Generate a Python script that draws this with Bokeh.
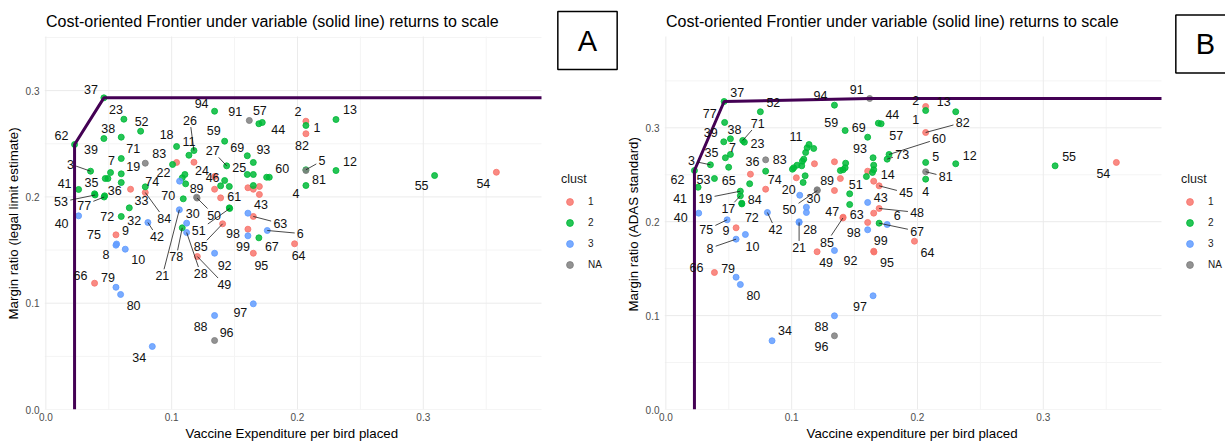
from bokeh.plotting import figure
from bokeh.models import (Legend, LegendItem, Label, Title, FixedTicker, Range1d,
                          PrintfTickFormatter)
from bokeh.layouts import row
from bokeh.embed import file_html
from bokeh.resources import INLINE
from bokeh.core.properties import value

FONT = "Liberation Sans"
PALETTE = {"1": "#F8766D", "2": "#00BA38", "3": "#619CFF", "NA": "#7F7F7F"}
CLUSTERS = ["1", "2", "3", "NA"]
TITLE = "Cost-oriented Frontier under variable (solid line) returns to scale"
MAJOR_TICKS = [0.0, 0.1, 0.2, 0.3]
MINOR_TICKS = [0.05, 0.15, 0.25, 0.35]

# ---------------- Panel A: margin ratio from the legal limit estimate ----------------
a_id = ["37", "23", "52", "38", "39", "62", "18", "26", "11", "94", "91", "57", "44", "59", "71", "83",
        "19", "3", "7", "", "", "", "27", "69", "93", "25", "", "60", "", "24", "22", "", "41", "35",
        "53", "36", "77", "33", "74", "84", "", "", "", "", "70", "46", "", "", "", "", "", "89", "50",
        "61", "51", "", "", "", "", "", "43", "63", "32", "72", "40", "21", "42", "30", "78", "28",
        "85", "98", "99", "6", "67", "64", "75", "8", "10", "9", "92", "95", "49", "66", "79", "80",
        "97", "88", "96", "34", "2", "1", "82", "13", "5", "81", "12", "4", "55", "54"]
a_x = [0.0461, 0.0620, 0.0753, 0.0599, 0.0461, 0.0228, 0.1039, 0.1177, 0.1137, 0.1341, 0.1617, 0.1693,
       0.1720, 0.1421, 0.0599, 0.0790, 0.0599, 0.0355, 0.0514, 0.0493, 0.0472, 0.0599, 0.1437, 0.1601,
       0.1649, 0.1601, 0.1649, 0.1776, 0.1755, 0.1177, 0.1007, 0.1039, 0.0260, 0.0387, 0.0391, 0.0467,
       0.0463, 0.0673, 0.0790, 0.0790, 0.1105, 0.1084, 0.1063, 0.1111, 0.1092, 0.1341, 0.1341, 0.1421,
       0.1389, 0.1458, 0.1389, 0.1198, 0.1202, 0.1458, 0.1461, 0.1606, 0.1649, 0.1649, 0.1697, 0.1697,
       0.1606, 0.1649, 0.0663, 0.0599, 0.0260, 0.1061, 0.0811, 0.1119, 0.1084, 0.1119, 0.1405, 0.1606,
       0.1606, 0.1760, 0.1693, 0.1977, 0.0557, 0.0557, 0.0631, 0.0562, 0.1341, 0.1649, 0.1204, 0.0387,
       0.0557, 0.0594, 0.1649, 0.1341, 0.1341, 0.0846, 0.2067, 0.2067, 0.2067, 0.2306, 0.2067, 0.2067,
       0.2306, 0.2067, 0.3090, 0.3581]
a_y = [0.2932, 0.2731, 0.2618, 0.2562, 0.2549, 0.2493, 0.2474, 0.2436, 0.2392, 0.2806, 0.2719, 0.2688,
       0.2700, 0.2524, 0.2361, 0.2317, 0.2217, 0.2242, 0.2229, 0.2173, 0.2173, 0.2135, 0.2292, 0.2387,
       0.2324, 0.2211, 0.2211, 0.2185, 0.2185, 0.2326, 0.2305, 0.2324, 0.2070, 0.2029, 0.2018, 0.2010,
       0.1999, 0.2072, 0.2095, 0.2041, 0.2211, 0.2180, 0.2148, 0.2123, 0.1982, 0.2072, 0.2192, 0.2154,
       0.2104, 0.2098, 0.1991, 0.1997, 0.1989, 0.1897, 0.1891, 0.2086, 0.2072, 0.2107, 0.2098, 0.2023,
       0.1847, 0.1816, 0.1897, 0.1816, 0.1822, 0.1879, 0.1759, 0.1753, 0.1709, 0.1665, 0.1747, 0.1696,
       0.1634, 0.1684, 0.1615, 0.1559, 0.1643, 0.1546, 0.1508, 0.1557, 0.1470, 0.1470, 0.1439, 0.1188,
       0.1150, 0.1082, 0.0994, 0.0884, 0.0649, 0.0593, 0.2712, 0.2672, 0.2594, 0.2728, 0.2255, 0.2248,
       0.2248, 0.2107, 0.2201, 0.2232]
a_clust = ["2", "2", "2", "2", "2", "2", "2", "2", "2", "2", "NA", "2", "2", "2", "2", "NA", "2", "2",
           "2", "2", "2", "2", "2", "2", "2", "2", "2", "2", "2", "1", "2", "1", "2", "2", "2", "2",
           "2", "1", "2", "1", "2", "2", "3", "2", "2", "1", "1", "2", "2", "2", "1", "NA", "NA", "2",
           "2", "1", "1", "2", "1", "1", "3", "1", "2", "2", "3", "3", "3", "3", "2", "3", "1", "1",
           "3", "3", "2", "1", "1", "3", "3", "3", "3", "1", "1", "1", "3", "3", "3", "3", "NA", "3",
           "1", "2", "1", "2", "2", "NA", "2", "2", "2", "1"]
# label placement: pixel offset of each id label from its point (screen y downwards), leader flag
a_dx = [-13, -8, 1, -13, -13, -13, -10, -4, 0, -13, -14, 1, 16, -11, 12, 14, 12, -20, 1, 0, 0, 0, -14,
        -10, 10, -8, 0, 13, 0, 8, -9, 0, -14, -3, -34, 10, -20, 11, 7, 19, 0, 0, 0, 0, -15, -2, 0, 0,
        0, 0, 0, 0, 17, 5, -31, 0, 0, 0, 0, 0, 13, 27, 5, -14, -17, -17, 9, 6, -6, 14, -22, -15, -5,
        33, 13, 4, -22, -10, 13, 9, 10, 8, 27, -14, -8, 13, -13, -14, 12, -13, -8, 11, -4, 14, 16, 13,
        14, -10, -13, -13]
a_dy = [-8, -10, -10, -9, 11, -9, -12, -30, -14, -8, -9, -13, 7, -11, -10, -10, -7, -7, -12, 0, 0, 0,
        -15, -8, -13, -7, 0, -9, 0, 8, 8, 0, -6, -11, 7, -5, 8, 11, -5, 26, 0, 0, 0, 0, -3, -12, 0, 0,
        0, 0, 0, -9, 17, -11, 22, 0, 0, 0, 0, 0, -9, 7, 13, 0, 8, 66, 14, -10, 29, 41, 23, 4, 11, 3, 9,
        12, 0, 9, 10, -13, 12, 12, 28, -8, -10, 11, 9, 11, -8, 11, -10, 2, 12, -10, -9, 9, -9, 8, 10,
        11]
a_lead = [0, 0, 0, 0, 0, 0, 0, 1, 0, 0, 0, 0, 0, 0, 0, 0, 0, 1, 0, 0, 0, 0, 1, 0, 0, 0, 0, 0, 0, 0, 0,
          0, 0, 0, 1, 0, 1, 0, 0, 1, 0, 0, 0, 0, 0, 0, 0, 0, 0, 0, 0, 0, 1, 0, 1, 0, 0, 0, 0, 0, 0, 1,
          0, 0, 0, 1, 1, 0, 1, 1, 1, 0, 0, 1, 0, 0, 0, 0, 0, 0, 0, 0, 1, 0, 0, 0, 0, 0, 0, 0, 0, 0, 0,
          0, 1, 0, 0, 0, 0, 0]
a_frontier = ["62", "37"]

# ---------------- Panel B: margin ratio from the ADAS standard ----------------
b_id = ["37", "52", "77", "39", "38", "71", "23", "7", "35", "3", "65", "62", "53", "41", "36", "", "83",
        "74", "", "19", "17", "84", "72", "40", "75", "9", "42", "8", "10", "66", "79", "80", "34", "88",
        "96", "97", "11", "", "", "", "", "", "", "", "", "", "", "", "", "", "20", "89", "50", "30", "",
        "28", "21", "49", "92", "47", "85", "", "", "", "59", "69", "94", "91", "44", "57", "93", "", "",
        "", "", "", "", "", "", "", "14", "45", "51", "", "43", "63", "48", "98", "", "67", "6", "99",
        "95", "64", "2", "1", "13", "82", "60", "73", "5", "81", "4", "12", "55", "54"]
b_x = [0.0463, 0.0751, 0.0467, 0.0460, 0.0513, 0.0611, 0.0624, 0.0513, 0.0473, 0.0354, 0.0499, 0.0227,
       0.0386, 0.0256, 0.0672, 0.0666, 0.0793, 0.0793, 0.0793, 0.0592, 0.0592, 0.0603, 0.0604, 0.0261,
       0.0487, 0.0558, 0.0807, 0.0558, 0.0632, 0.0386, 0.0558, 0.0592, 0.0844, 0.1340, 0.1340, 0.1647,
       0.1138, 0.1123, 0.1175, 0.1111, 0.1096, 0.1085, 0.1043, 0.1016, 0.1006, 0.1080, 0.1107, 0.1091,
       0.1181, 0.1037, 0.1064, 0.1202, 0.1204, 0.1117, 0.1117, 0.1059, 0.1059, 0.1202, 0.1340, 0.1409,
       0.1407, 0.1340, 0.1387, 0.1340, 0.1425, 0.1604, 0.1340, 0.1620, 0.1689, 0.1711, 0.1647, 0.1429,
       0.1425, 0.1409, 0.1387, 0.1652, 0.1652, 0.1642, 0.1604, 0.1594, 0.1652, 0.1695, 0.1461, 0.1461,
       0.1604, 0.1652, 0.1695, 0.1604, 0.1604, 0.1695, 0.1759, 0.1652, 0.1654, 0.1976, 0.2065, 0.2065,
       0.2304, 0.2065, 0.1774, 0.1759, 0.2065, 0.2065, 0.2065, 0.2304, 0.3094, 0.3581]
b_y = [0.3280, 0.3171, 0.3057, 0.2851, 0.2883, 0.2865, 0.2847, 0.2716, 0.2681, 0.2606, 0.2580, 0.2545,
       0.2460, 0.2367, 0.2506, 0.2404, 0.2659, 0.2538, 0.2346, 0.2325, 0.2276, 0.2197, 0.2189, 0.2091,
       0.2020, 0.1935, 0.2098, 0.1814, 0.1864, 0.1459, 0.1409, 0.1331, 0.0732, 0.0998, 0.0785, 0.1211,
       0.2822, 0.2787, 0.2780, 0.2737, 0.2666, 0.2644, 0.2602, 0.2574, 0.2559, 0.2595, 0.2489, 0.2418,
       0.2617, 0.2468, 0.2282, 0.2340, 0.2332, 0.2154, 0.2098, 0.1999, 0.1992, 0.1680, 0.1693, 0.2048,
       0.2039, 0.2638, 0.2460, 0.2332, 0.2971, 0.2900, 0.3241, 0.3312, 0.3049, 0.3043, 0.2681, 0.2623,
       0.2574, 0.2553, 0.2545, 0.2602, 0.2553, 0.2524, 0.2538, 0.2481, 0.2431, 0.2382, 0.2297, 0.2183,
       0.2205, 0.2091, 0.2141, 0.1914, 0.1992, 0.1984, 0.1970, 0.1686, 0.1677, 0.1792, 0.3227, 0.3184,
       0.3171, 0.2950, 0.2716, 0.2666, 0.2631, 0.2532, 0.2453, 0.2617, 0.2595, 0.2631]
b_clust = ["2", "2", "2", "2", "2", "2", "2", "2", "2", "2", "2", "2", "2", "2", "1", "2", "NA", "2",
           "1", "2", "2", "2", "2", "3", "3", "1", "3", "3", "3", "1", "3", "3", "3", "3", "NA", "3",
           "2", "2", "2", "2", "2", "2", "2", "2", "2", "2", "2", "2", "1", "1", "3", "NA", "NA", "3",
           "3", "3", "3", "1", "3", "1", "1", "1", "1", "1", "2", "2", "2", "NA", "2", "2", "2", "2",
           "2", "2", "2", "2", "2", "2", "1", "2", "1", "1", "2", "2", "3", "1", "1", "3", "1", "2",
           "3", "1", "1", "1", "1", "2", "2", "1", "2", "2", "2", "NA", "2", "2", "2", "1"]
b_dx = [13, 13, -15, -13, 4, 15, 13, 2, -14, -19, 0, -17, -11, -18, 2, 0, 14, 9, 0, -35, -12, 13, 10,
        -18, -21, -10, 8, -26, 7, -18, -8, 13, 13, -13, -13, -13, -13, 0, 0, 0, 0, 0, 0, 0, 0, 0, 0, 0,
        0, 0, -11, 10, -28, 7, 0, 11, 0, 9, 16, -11, -16, 0, 0, 0, -14, -9, -14, -13, 14, 15, -13, 0, 0,
        0, 0, 0, 0, 0, 0, 0, 14, 27, 6, 0, 13, -17, 38, -14, 0, 38, 10, 7, 13, 13, -10, -10, -12, 37,
        50, 15, 10, 20, 0, 14, 14, -13]
b_dy = [-9, -9, -9, -9, -9, -17, 1, -7, -5, -4, 13, 9, 1, 11, -13, 0, 0, 8, 0, 7, 13, -4, 14, 4, 10, 3,
        17, 9, 12, -5, -9, 11, -10, 11, 11, 11, -8, 0, 0, 0, 0, 0, 0, 0, 0, 0, 0, 0, 0, 0, -6, -9, 19, -9,
        0, 8, 25, 11, 10, -6, 24, 0, 0, 0, -8, -10, -10, -9, -9, 12, -9, 0, 0, 0, 0, 0, 0, 0, 0, 0, -7,
        7, -9, 0, -5, 1, 4, 3, 0, 8, -9, -11, 10, 11, -6, 9, -10, -10, -16, -5, -6, 5, 12, -8, -9, 11]
b_lead = [0, 0, 0, 0, 0, 1, 0, 0, 0, 1, 0, 0, 0, 0, 0, 0, 0, 0, 0, 1, 1, 0, 0, 0, 1, 0, 1, 1, 0, 0, 0,
          0, 0, 0, 0, 0, 0, 0, 0, 0, 0, 0, 0, 0, 0, 0, 0, 0, 0, 0, 0, 0, 1, 0, 0, 0, 1, 0, 0, 0, 1, 0,
          0, 0, 0, 0, 0, 0, 0, 0, 0, 0, 0, 0, 0, 0, 0, 0, 0, 0, 0, 1, 0, 0, 0, 0, 1, 0, 0, 1, 0, 0, 0,
          0, 0, 0, 0, 1, 1, 1, 0, 1, 0, 0, 0, 0]
b_frontier = ["62", "37", "91"]

# ---------------- layout constants (pixels) ----------------
HEIGHT = 441
LEFT = 44          # room for the y axis
BOTTOM = 32        # room for the x axis
PANEL_TOP = 36     # top of the gridded panel, title and letter box sit above it
PANEL_W = 497      # width of the gridded panel
X_SCALE = 1258.0   # pixels per unit of vaccine expenditure
X0 = -0.0011
AXIS_TITLE_SIZE = "13.3px"


def panel(ids, xs, ys, clust, dx, dy, lead, frontier, xlab, ylab, tag, width, y_scale,
          xlab_offset, ylab_offset):
    frame_w = width - LEFT
    frame_h = HEIGHT - BOTTOM
    x_end = X0 + frame_w / X_SCALE
    x_lim = X0 + PANEL_W / X_SCALE
    y_end = frame_h / y_scale
    y_lim = (frame_h - PANEL_TOP) / y_scale

    p = figure(width=width, height=HEIGHT, x_range=Range1d(X0, x_end), y_range=Range1d(0.0, y_end),
               output_backend="svg", toolbar_location=None,
               min_border_left=LEFT, min_border_right=0, min_border_top=0, min_border_bottom=BOTTOM)
    p.outline_line_color = None
    p.background_fill_color = "white"
    p.border_fill_color = "white"
    p.grid.visible = False

    for ax in (p.xaxis, p.yaxis):
        ax.ticker = FixedTicker(ticks=MAJOR_TICKS, minor_ticks=MINOR_TICKS)
        ax.formatter = PrintfTickFormatter(format="%.1f")
        ax.axis_line_color = None
        ax.major_tick_line_color = None
        ax.minor_tick_line_color = None
        ax.major_tick_out = 0
        ax.major_tick_in = 0
        ax.minor_tick_out = 0
        ax.minor_tick_in = 0
        ax.major_label_text_font = FONT
        ax.major_label_text_font_size = "10px"
        ax.major_label_text_color = "#4D4D4D"
    p.xaxis.major_label_standoff = 3
    p.yaxis.major_label_standoff = 5

    # axis titles, positioned along the gridded panel rather than the whole frame
    p.add_layout(Title(text=xlab, align="left", offset=xlab_offset, standoff=0,
                       text_font=FONT, text_font_size=AXIS_TITLE_SIZE, text_font_style="normal",
                       text_color="#000000"), "below")
    p.add_layout(Title(text=ylab, align="left", offset=ylab_offset, standoff=3,
                       text_font=FONT, text_font_size=AXIS_TITLE_SIZE, text_font_style="normal",
                       text_color="#000000"), "left")

    # panel grid, limited to the plotting panel
    for ticks, color in ((MINOR_TICKS, "#F4F4F4"), (MAJOR_TICKS, "#EBEBEB")):
        gx = [t for t in ticks if t < x_lim]
        p.segment(gx, [0.0] * len(gx), gx, [y_lim] * len(gx), line_color=color, line_width=1)
        gy = [t for t in ticks if t < y_lim]
        p.segment([X0] * len(gy), gy, [x_lim] * len(gy), gy, line_color=color, line_width=1)

    # points, one renderer per cluster
    items = []
    for c in CLUSTERS:
        idx = [i for i, k in enumerate(clust) if k == c]
        r = p.scatter([xs[i] for i in idx], [ys[i] for i in idx], size=6,
                      fill_color=PALETTE[c], line_color=PALETTE[c], fill_alpha=0.85, line_alpha=0.85)
        items.append(LegendItem(label=c, renderers=[r]))

    # variable-returns frontier through the efficient units
    pos = {k: (xs[i], ys[i]) for i, k in enumerate(ids) if k}
    fx = [pos[frontier[0]][0]] + [pos[k][0] for k in frontier] + [x_lim]
    fy = [0.0] + [pos[k][1] for k in frontier] + [pos[frontier[-1]][1]]
    p.line(fx, fy, line_color="#440154", line_width=3)

    # id labels with leader segments
    lx, ly, lt = [], [], []
    s0x, s0y, s1x, s1y = [], [], [], []
    for i, k in enumerate(ids):
        if not k:
            continue
        lx.append(xs[i] + dx[i] / X_SCALE)
        ly.append(ys[i] - dy[i] / y_scale)
        lt.append(k)
        if lead[i]:
            hw, hh = 3.6 * len(k) + 2.0, 6.5
            t = 1.0
            if dx[i]:
                t = min(t, hw / abs(dx[i]))
            if dy[i]:
                t = min(t, hh / abs(dy[i]))
            f = 1.0 - t
            s0x.append(xs[i])
            s0y.append(ys[i])
            s1x.append(xs[i] + f * dx[i] / X_SCALE)
            s1y.append(ys[i] - f * dy[i] / y_scale)
    p.segment(s0x, s0y, s1x, s1y, line_color="#1a1a1a", line_width=0.8)
    p.text(lx, ly, text=lt, text_align="center", text_baseline="middle",
           text_font=value(FONT), text_font_size="12.5px", text_color="#111111")

    # title above the panel
    p.add_layout(Label(x=1.5, y=frame_h - 20.5, x_units="screen", y_units="screen", text=TITLE,
                       text_align="left", text_baseline="middle", text_font=FONT,
                       text_font_size="16px", text_color="#000000"))

    # cluster legend to the right of the panel
    legend = Legend(items=items, title="clust", location=(PANEL_W + 20, frame_h - 273),
                    orientation="vertical",
                    glyph_width=17, glyph_height=17, spacing=4, padding=0, margin=0,
                    label_standoff=10, title_standoff=7, border_line_color=None,
                    background_fill_alpha=0.0,
                    label_text_font=FONT, label_text_font_size="10px", label_text_color="#1a1a1a",
                    title_text_font=FONT, title_text_font_size="12.5px",
                    title_text_font_style="normal", title_text_color="#1a1a1a")
    p.add_layout(legend)

    # boxed panel letter
    box_cy = 40 if tag == "A" else 43.5
    box_cx = 543 if tag == "A" else 541
    p.add_layout(Label(x=box_cx, y=frame_h - box_cy, x_units="screen", y_units="screen", text=tag,
                       text_align="center", text_baseline="middle",
                       text_font=FONT, text_font_size="29px", text_color="#000000",
                       border_line_color="#000000", border_line_width=1.5,
                       background_fill_color="white",
                       padding=dict(left=20, right=20, top=13, bottom=13)))
    return p


pa = panel(a_id, a_x, a_y, a_clust, a_dx, a_dy, a_lead, a_frontier,
           "Vaccine Expenditure per bird placed", "Margin ratio (legal limit estimate)", "A",
           620, 1063.0, 141, 90)
pb = panel(b_id, b_x, b_y, b_clust, b_dx, b_dy, b_lead, b_frontier,
           "Vaccine expenditure per bird placed", "Margin ratio (ADAS standard)", "B",
           605, 939.0, 142, 98)

layout = row(pa, pb)
open("out.html", "w").write(file_html(layout, INLINE))
